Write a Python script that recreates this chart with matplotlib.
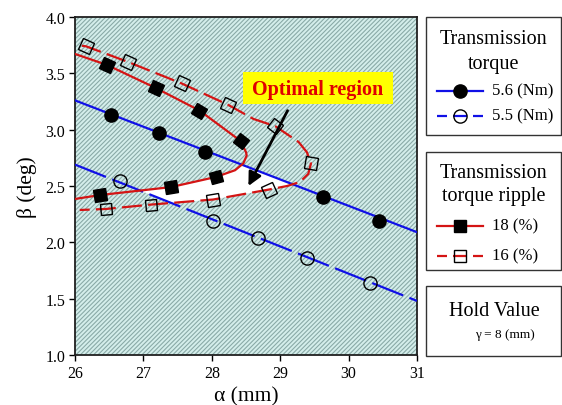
import numpy as np
import matplotlib
matplotlib.use("Agg")
import matplotlib.pyplot as plt
from matplotlib.patches import Rectangle
from matplotlib.collections import LineCollection
from matplotlib.markers import MarkerStyle
from matplotlib.transforms import Affine2D

plt.rcParams['font.family'] = ['Liberation Serif', 'DejaVu Serif']

# torque 5.6 Nm (solid blue)
t56_line_a = [26.0, 31.0]
t56_line_b = [3.26, 2.09]
t56_mark_a = [26.53, 27.23, 27.90, 29.62, 30.44]
t56_mark_b = [3.13, 2.97, 2.80, 2.40, 2.19]

# torque 5.5 Nm (dashed blue)
t55_line_a = [26.0, 31.0]
t55_line_b = [2.69, 1.48]
t55_mark_a = [26.66, 28.02, 28.68, 29.39, 30.32]
t55_mark_b = [2.54, 2.19, 2.04, 1.86, 1.64]

# ripple 18 % (solid red), traced from upper-left round the nose
r18_line_a = [26.00, 26.47, 27.18, 27.82, 28.42, 28.50, 28.51, 28.46, 28.34, 28.06, 27.40, 26.37, 26.00]
r18_line_b = [3.672, 3.574, 3.37, 3.17, 2.90, 2.80, 2.77, 2.70, 2.64, 2.58, 2.49, 2.42, 2.385]
r18_mark_a = [26.47, 27.18, 27.82, 28.42, 28.06, 27.40, 26.37]
r18_mark_b = [3.574, 3.37, 3.17, 2.90, 2.58, 2.49, 2.42]

# ripple 16 % (dashed red)
r16_line_a = [26.10, 26.16, 26.78, 27.56, 28.24, 28.61, 28.93, 29.27, 29.39, 29.45,
              29.41, 29.29, 29.10, 28.83, 28.02, 27.11, 26.45, 26.07]
r16_line_b = [3.745, 3.74, 3.60, 3.41, 3.22, 3.095, 3.03, 2.89, 2.80, 2.70,
              2.607, 2.536, 2.50, 2.468, 2.38, 2.335, 2.296, 2.287]
r16_mark_a = [26.16, 26.78, 27.56, 28.24, 28.93, 29.45, 28.83, 28.02, 27.11, 26.45]
r16_mark_b = [3.74, 3.60, 3.41, 3.22, 3.03, 2.70, 2.468, 2.38, 2.335, 2.296]

x_ticks = [26, 27, 28, 29, 30, 31]
y_ticks = [1.0, 1.5, 2.0, 2.5, 3.0, 3.5, 4.0]

BLUE = '#1010e6'
RED = '#d41414'

fig = plt.figure(figsize=(5.62, 4.06), dpi=100)
rect = [75 / 562, 1 - 356 / 406, 342 / 562, 338 / 406]


def layer():
    a = fig.add_axes(rect)
    a.set_xlim(26, 31)
    a.set_ylim(1.0, 4.0)
    a.axis('off')
    a.patch.set_visible(False)
    return a


# bottom axes: background, hatch, ticks, labels
ax = fig.add_axes(rect)
ax.set_xlim(26, 31)
ax.set_ylim(1.0, 4.0)
ax.set_facecolor('#d4eeeb')
W, H = 342, 338
px = Affine2D().scale(1 / W, 1 / H) + ax.transAxes
segs = [[(c, 0), (c + H, H)] for c in np.arange(-H, W, 4.4)]
hatch = LineCollection(segs, colors='#89aaa7', linewidths=0.8, transform=px)
ax.add_collection(hatch)
hatch.set_clip_path(ax.patch)

ax.set_xticks(x_ticks)
ax.set_yticks(y_ticks)
ax.set_yticklabels([f'{v:.1f}' for v in y_ticks])
ax.tick_params(direction='out', length=4, width=1, labelsize=11.5, pad=3)
for s in ax.spines.values():
    s.set_linewidth(1.3)
    s.set_color('#202020')
ax.set_xlabel('α (mm)', fontsize=15.5, labelpad=4)
ax.set_ylabel('β (deg)', fontsize=15.5, labelpad=6)

# optimal region: inside the 16 % curve, outside the 18 % curve,
# between the two torque lines (own layer so it sits above the hatch)
wax = layer()
xs = np.linspace(26, 31, 800)
blue_hi = np.interp(xs, t56_line_a, t56_line_b)
blue_lo = np.interp(xs, t55_line_a, t55_line_b)
red_hi = np.interp(xs, np.array(r18_line_a[6:])[::-1], np.array(r18_line_b[6:])[::-1], right=10.0)
red_lo = np.interp(xs, np.array(r16_line_a[9:])[::-1], np.array(r16_line_b[9:])[::-1],
                   left=10.0, right=10.0)
upper = np.minimum(blue_hi, red_hi)
lower = np.maximum(blue_lo, red_lo)
ok = upper > lower
wax.fill(np.concatenate([xs[ok], xs[ok][::-1]]), np.concatenate([upper[ok], lower[ok][::-1]]),
         facecolor='white', edgecolor='none')

# data layer
dax = layer()
fig.canvas.draw()


def tangent_angles(a, b):
    pts = dax.transData.transform(np.column_stack([a, b]))
    d = np.gradient(pts, axis=0)
    return np.degrees(np.arctan2(d[:, 1], d[:, 0]))


def rotated_squares(a, b, filled):
    angs = tangent_angles(a, b)
    for x, y, ang in zip(a, b, angs):
        m = MarkerStyle('s', transform=Affine2D().rotate_deg(ang))
        dax.plot([x], [y], marker=m, ms=8.5, mec='black', mew=1.0,
                 mfc='black' if filled else 'none', ls='none', zorder=4)


dax.plot(t56_line_a, t56_line_b, color=BLUE, lw=1.6, zorder=2)
dax.plot(t55_line_a, t55_line_b, color=BLUE, lw=1.6, dashes=(15, 3), zorder=2)
dax.plot(r18_line_a, r18_line_b, color=RED, lw=1.6, zorder=3)
dax.plot(r16_line_a, r16_line_b, color=RED, lw=1.6, dashes=(9, 2.8), zorder=3)
dax.plot(t56_mark_a, t56_mark_b, 'o', ms=9.5, color='black', zorder=4)
dax.plot(t55_mark_a, t55_mark_b, 'o', ms=9.5, mfc='none', mec='black', mew=1.0, zorder=4)
rotated_squares(r18_mark_a[:4], r18_mark_b[:4], True)
rotated_squares(r18_mark_a[4:], r18_mark_b[4:], True)
rotated_squares(r16_mark_a, r16_mark_b, False)
dax.set_xlim(26, 31)
dax.set_ylim(1.0, 4.0)

dax.annotate('', xy=(28.535, 2.50), xytext=(29.108, 3.169),
             arrowprops=dict(arrowstyle='-|>', lw=2, color='black', mutation_scale=20,
                             shrinkA=0, shrinkB=0), zorder=5)

# overlay in pixel coords for legend boxes and label
ov = fig.add_axes([0, 0, 1, 1])
ov.set_xlim(0, 562)
ov.set_ylim(406, 0)
ov.axis('off')
ov.patch.set_visible(False)

ov.add_patch(Rectangle((243, 73), 150, 32, facecolor='#ffff00', edgecolor='none'))
ov.text(318, 89.5, 'Optimal region', color='#e00000', fontsize=14.5, fontweight='bold',
        ha='center', va='center')

for top, bot in [(18, 136), (153, 271), (287, 357)]:
    ov.add_patch(Rectangle((426, top), 134.5, bot - top, facecolor='white',
                           edgecolor='#333333', lw=1.0))

title_kw = dict(fontsize=14.5, ha='center', va='center')
ov.text(494, 40, 'Transmission', **title_kw)
ov.text(494, 65, 'torque', **title_kw)
ov.text(494, 173.5, 'Transmission', **title_kw)
ov.text(494, 197, 'torque ripple', **title_kw)
ov.text(494, 312, 'Hold Value', **title_kw)
ov.text(505, 335.5, 'γ = 8 (mm)', fontsize=9.5, ha='center', va='center')


def legend_row(y, color, dashed, marker, filled, label):
    if dashed:
        for x0, x1 in [(437, 447), (453, 467), (473, 483)]:
            ov.plot([x0, x1], [y, y], color=color, lw=1.6, solid_capstyle='butt')
    else:
        ov.plot([437, 483], [y, y], color=color, lw=1.6)
    ov.plot([460], [y], marker=marker, ms=9.5 if marker == 'o' else 8.5,
            mfc='black' if filled else 'none', mec='black', mew=1.0)
    ov.text(492, y, label, fontsize=12, ha='left', va='center')


legend_row(91.7, BLUE, False, 'o', True, '5.6 (Nm)')
legend_row(116.7, BLUE, True, 'o', False, '5.5 (Nm)')
legend_row(226.7, RED, False, 's', True, '18 (%)')
legend_row(256.7, RED, True, 's', False, '16 (%)')

fig.savefig('out.png', dpi=100)
